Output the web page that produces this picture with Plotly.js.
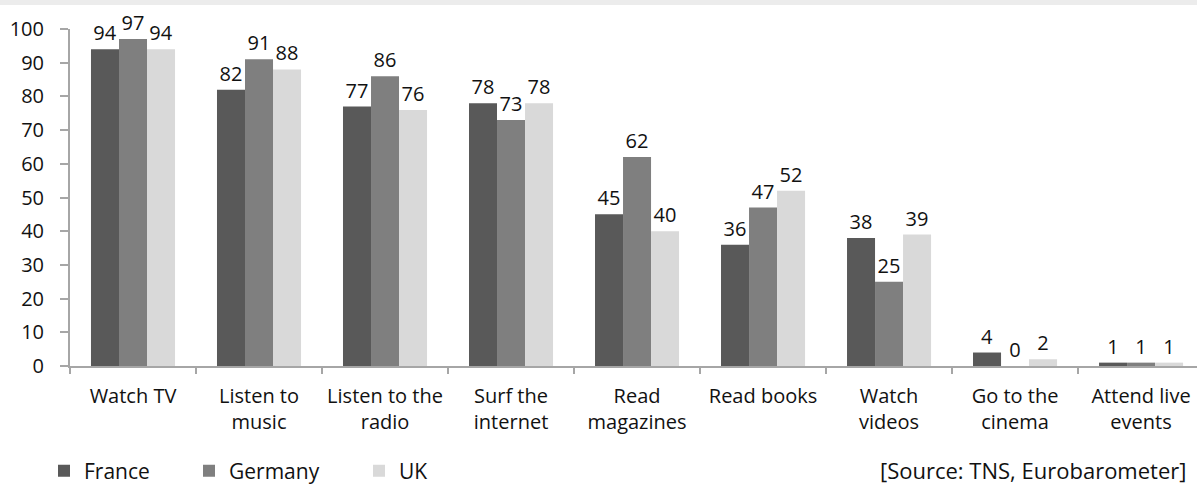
<!DOCTYPE html>
<html>
<head>
<meta charset="utf-8">
<script src="https://cdn.plot.ly/plotly-3.0.1.min.js"></script>
<style>html,body{margin:0;padding:0;background:#fff;}#chart{width:1197px;height:489px;}</style>
</head>
<body>
<div id="chart"></div>
<script>
const categories = ["Watch TV", "Listen to<br>music", "Listen to the<br>radio", "Surf the<br>internet", "Read<br>magazines", "Read books", "Watch<br>videos", "Go to the<br>cinema", "Attend live<br>events"];
const france = [94, 82, 77, 78, 45, 36, 38, 4, 1];
const germany = [97, 91, 86, 73, 62, 47, 25, 0, 1];
const uk = [94, 88, 76, 78, 40, 52, 39, 2, 1];
const yTicks = [0, 10, 20, 30, 40, 50, 60, 70, 80, 90, 100];

const FONT = "Open Sans, Lato, sans-serif";
const labelFont = {family: FONT, size: 20, color: "#111"};

function bar(name, vals, color, legend) {
  return {
    type: "bar", name: name, x: categories, y: vals,
    marker: {color: color, line: {width: 0}},
    text: vals.map(String), textposition: "outside",
    textfont: labelFont, constraintext: "none", cliponaxis: false,
    legend: legend, hoverinfo: "x+y+name"
  };
}

const data = [
  bar("France", france, "#595959", "legend"),
  bar("Germany", germany, "#7f7f7f", "legend2"),
  bar("UK", uk, "#d9d9d9", "legend3")
];

const legBase = {orientation: "h", xref: "container", yref: "container", yanchor: "middle",
  y: 1 - 471/489, itemwidth: 30, font: {family: FONT, size: 21, color: "#111"},
  bgcolor: "rgba(0,0,0,0)", borderwidth: 0, itemclick: false};

const layout = {
  width: 1197, height: 489,
  margin: {l: 70, r: 0, t: 29, b: 123},
  paper_bgcolor: "#fff", plot_bgcolor: "#fff",
  barmode: "group", bargap: 0.333, bargroupgap: 0,
  showlegend: true,
  legend: Object.assign({}, legBase, {x: 44/1197}),
  legend2: Object.assign({}, legBase, {x: 189/1197}),
  legend3: Object.assign({}, legBase, {x: 359/1197}),
  xaxis: {
    type: "category", range: [-0.5, 8.444],
    showline: true, linecolor: "#a6a6a6", linewidth: 2,
    ticks: "outside", tickson: "boundaries", ticklen: 6, tickcolor: "#a6a6a6", tickwidth: 2,
    tickfont: {family: FONT, size: 20, color: "#111"}, tickangle: 0,
    ticklabelstandoff: 11,
    showgrid: false, zeroline: false, fixedrange: true
  },
  yaxis: {
    range: [0, 100], tickvals: yTicks, ticktext: yTicks.map(String),
    showline: true, linecolor: "#a6a6a6", linewidth: 2,
    ticks: "outside", ticklen: 8, tickcolor: "#a6a6a6", tickwidth: 2,
    tickfont: {family: FONT, size: 20, color: "#111"},
    ticklabelstandoff: 12,
    showgrid: false, zeroline: false, fixedrange: true
  },
  shapes: [{
    type: "rect", xref: "paper", yref: "paper",
    x0: -70/1127, x1: 1, y0: (366-5)/337, y1: 366/337 + 0.01,
    fillcolor: "#ececec", line: {width: 0}, layer: "below"
  }],
  annotations: [{
    xref: "paper", yref: "paper", x: (1188-70)/1127, y: (366-470)/337,
    xanchor: "right", yanchor: "middle", showarrow: false,
    text: "[Source: TNS, Eurobarometer]",
    font: {family: FONT, size: 22, color: "#111"}
  }]
};

Plotly.newPlot("chart", data, layout, {displayModeBar: false, staticPlot: true});
</script>
</body>
</html>
